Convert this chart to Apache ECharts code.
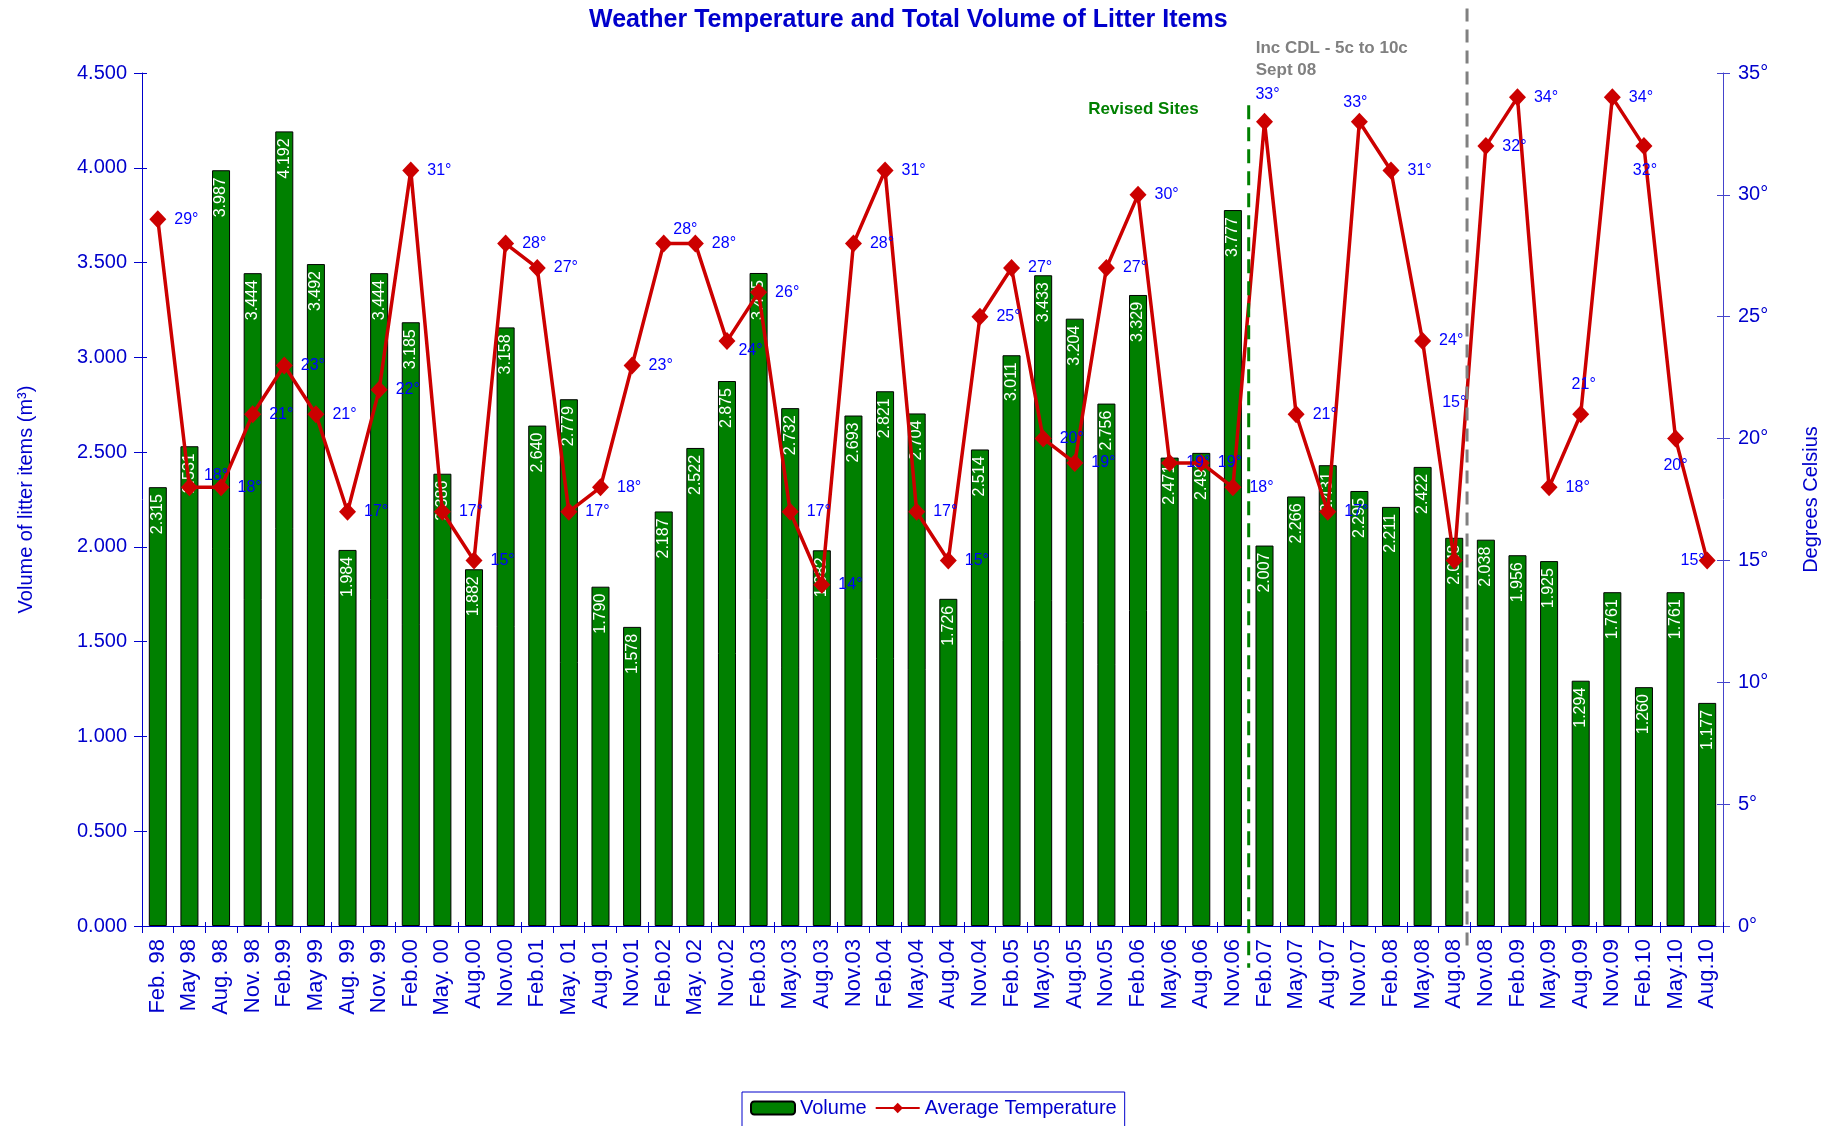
<!DOCTYPE html>
<html>
<head>
<meta charset="utf-8">
<title>Weather Temperature and Total Volume of Litter Items</title>
<script src="https://cdn.jsdelivr.net/npm/echarts@6/dist/echarts.min.js"></script>
<style>
  html, body { margin: 0; padding: 0; background: #ffffff; }
  #chart { width: 1841px; height: 1126px; }
</style>
</head>
<body>
<div id="chart"></div>
<script>
// Survey periods (quarterly)
const categories = [
  'Feb. 98', 'May 98', 'Aug. 98', 'Nov. 98',
  'Feb.99', 'May 99', 'Aug. 99', 'Nov. 99',
  'Feb.00', 'May. 00', 'Aug.00', 'Nov.00',
  'Feb.01', 'May. 01', 'Aug.01', 'Nov.01',
  'Feb.02', 'May. 02', 'Nov.02',
  'Feb.03', 'May.03', 'Aug.03', 'Nov.03',
  'Feb.04', 'May.04', 'Aug.04', 'Nov.04',
  'Feb.05', 'May.05', 'Aug.05', 'Nov.05',
  'Feb.06', 'May.06', 'Aug.06', 'Nov.06',
  'Feb.07', 'May.07', 'Aug.07', 'Nov.07',
  'Feb.08', 'May.08', 'Aug.08', 'Nov.08',
  'Feb.09', 'May.09', 'Aug.09', 'Nov.09',
  'Feb.10', 'May.10', 'Aug.10'
];

// Total volume of litter items (m3)
const volume = [
  2.315, 2.531, 3.987, 3.444,
  4.192, 3.492, 1.984, 3.444,
  3.185, 2.386, 1.882, 3.158,
  2.640, 2.779, 1.790, 1.578,
  2.187, 2.522, 2.875,
  3.445, 2.732, 1.982, 2.693,
  2.821, 2.704, 1.726, 2.514,
  3.011, 3.433, 3.204, 2.756,
  3.329, 2.471, 2.496, 3.777,
  2.007, 2.266, 2.431, 2.295,
  2.211, 2.422, 2.048, 2.038,
  1.956, 1.925, 1.294, 1.761,
  1.260, 1.761, 1.177
];

// Average temperature (degrees Celsius)
const temperature = [
  29, 18, 18, 21,
  23, 21, 17, 22,
  31, 17, 15, 28,
  27, 17, 18, 23,
  28, 28, 24,
  26, 17, 14, 28,
  31, 17, 15, 25,
  27, 20, 19, 27,
  30, 19, 19, 18,
  33, 21, 17, 33,
  31, 24, 15, 32,
  34, 18, 21, 34,
  32, 20, 15
];

// Axis ranges
const volumeAxis = { min: 0, max: 4.5, interval: 0.5 };
const tempAxis = { min: 0, max: 35, interval: 5 };

// Event markers: category where each change starts
const revisedSitesAt = 'Feb.07';
const cdlAt = 'Nov.08';

const FONT = "'Liberation Sans', Arial, sans-serif";
const BLUE = '#0000CC';
const LABEL_BLUE = '#0000FF';
const GREEN = '#008000';
const RED = '#CC0000';

// Temperature labels that sit somewhere other than right of the marker
const tempLabelPlacement = {
  'May 98':  { position: 'right', distance: 8, offset: [-2, -12] },
  'Feb.02':  { position: 'right', distance: 8, offset: [-7, -14] },
  'Nov.02':  { position: 'right', distance: 8, offset: [-5, 10] },
  'Feb.07':  { position: 'top', distance: 10, offset: [3, 0] },
  'Nov.07':  { position: 'top', distance: 2, offset: [-4, 0] },
  'Aug.08':  { position: 'top', distance: 5, offset: [0, -136] },
  'Aug.09':  { position: 'top', distance: 13, offset: [3, 0] },
  'Feb.10':  { position: 'bottom', distance: 7, offset: [1, 0] },
  'May.10':  { position: 'bottom', distance: 10, offset: [0, 0] },
  'Aug.10':  { position: 'left', distance: 0, offset: [6, 0] }
};

const tempData = temperature.map((t, i) => {
  const p = tempLabelPlacement[categories[i]];
  return p ? { value: t, label: p } : t;
});

const chart = echarts.init(document.getElementById('chart'), null, { renderer: 'canvas' });

const option = {
  backgroundColor: '#ffffff',
  animation: false,
  textStyle: { fontFamily: FONT },
  title: {
    text: 'Weather Temperature and Total Volume of Litter Items',
    left: 589,
    top: 8,
    padding: 0,
    textStyle: { color: BLUE, fontSize: 25, fontWeight: 'bold', fontFamily: FONT }
  },
  legend: {
    data: ['Volume', 'Average Temperature'],
    left: 742,
    top: 1092,
    padding: [6, 8, 16, 8],
    itemGap: 8,
    itemWidth: 44,
    itemHeight: 13,
    borderColor: BLUE,
    borderWidth: 1,
    textStyle: { color: BLUE, fontSize: 20, fontFamily: FONT }
  },
  grid: { left: 142, right: 118, top: 73, bottom: 200, containLabel: false },
  xAxis: [
    {
      type: 'category',
      data: categories,
      position: 'bottom',
      boundaryGap: true,
      axisLine: { show: true, lineStyle: { color: BLUE, width: 1 } },
      axisTick: { show: true, length: 7, lineStyle: { color: BLUE } },
      axisLabel: {
        rotate: 90, interval: 0, margin: 13,
        color: BLUE, fontSize: 22, fontFamily: FONT
      },
      splitLine: { show: false }
    },
    {
      // inner half of the cross tick marks
      type: 'category',
      data: categories,
      position: 'bottom',
      boundaryGap: true,
      axisLine: { show: false },
      axisTick: { show: true, inside: true, length: 4, lineStyle: { color: BLUE } },
      axisLabel: { show: false },
      splitLine: { show: false }
    }
  ],
  yAxis: [
    {
      type: 'value',
      position: 'left',
      min: volumeAxis.min, max: volumeAxis.max, interval: volumeAxis.interval,
      name: 'Volume of litter items (m³)',
      nameLocation: 'middle',
      nameRotate: 90,
      nameGap: 106,
      nameTextStyle: { color: BLUE, fontSize: 20, fontFamily: FONT },
      axisLine: { show: true, lineStyle: { color: BLUE, width: 1 } },
      axisTick: { show: true, length: 8, lineStyle: { color: BLUE } },
      axisLabel: {
        margin: 15, color: BLUE, fontSize: 20, fontFamily: FONT,
        formatter: v => v.toFixed(3)
      },
      splitLine: { show: false }
    },
    {
      type: 'value',
      position: 'right',
      min: tempAxis.min, max: tempAxis.max, interval: tempAxis.interval,
      name: 'Degrees Celsius',
      nameLocation: 'middle',
      nameRotate: 90,
      nameGap: 78,
      nameTextStyle: { color: BLUE, fontSize: 20, fontFamily: FONT },
      axisLine: { show: true, lineStyle: { color: '#4444CC', width: 1 } },
      axisTick: { show: true, length: 7, lineStyle: { color: '#4444CC' } },
      axisLabel: {
        margin: 15, color: BLUE, fontSize: 20, fontFamily: FONT,
        formatter: v => v + '°'
      },
      splitLine: { show: false }
    },
    {
      // inner half of the left cross ticks
      type: 'value',
      position: 'left',
      min: volumeAxis.min, max: volumeAxis.max, interval: volumeAxis.interval,
      axisLine: { show: false },
      axisTick: { show: true, inside: true, length: 5, lineStyle: { color: BLUE } },
      axisLabel: { show: false },
      splitLine: { show: false }
    },
    {
      // inner half of the right cross ticks
      type: 'value',
      position: 'right',
      min: tempAxis.min, max: tempAxis.max, interval: tempAxis.interval,
      axisLine: { show: false },
      axisTick: { show: true, inside: true, length: 6, lineStyle: { color: '#4444CC' } },
      axisLabel: { show: false },
      splitLine: { show: false }
    }
  ],
  series: [
    {
      name: 'Volume',
      type: 'bar',
      xAxisIndex: 0,
      yAxisIndex: 0,
      data: volume,
      barCategoryGap: '43%',
      itemStyle: { color: GREEN, borderColor: '#000000', borderWidth: 1 },
      label: {
        show: true,
        position: 'insideTop',
        distance: 7,
        rotate: 90,
        align: 'right',
        verticalAlign: 'middle',
        color: '#ffffff',
        fontSize: 16,
        fontFamily: FONT,
        formatter: p => p.value.toFixed(3)
      },
      z: 2
    },
    {
      name: 'Average Temperature',
      type: 'line',
      xAxisIndex: 0,
      yAxisIndex: 1,
      data: tempData,
      symbol: 'diamond',
      symbolSize: [17, 18],
      lineStyle: { color: RED, width: 3.5 },
      itemStyle: { color: RED },
      label: {
        show: true,
        position: 'right',
        distance: 8,
        color: LABEL_BLUE,
        fontSize: 16,
        fontFamily: FONT,
        formatter: p => p.value + '°'
      },
      z: 5
    }
  ]
};

chart.setOption(option);

// Period boundary lines and their captions, positioned through the axes
function boundaryX(name) {
  const i = categories.indexOf(name);
  const a = chart.convertToPixel({ xAxisIndex: 0 }, categories[i - 1]);
  const b = chart.convertToPixel({ xAxisIndex: 0 }, categories[i]);
  return (a + b) / 2;
}
const yPix = v => chart.convertToPixel({ yAxisIndex: 0 }, v);

const gx = boundaryX(revisedSitesAt);
const cx = boundaryX(cdlAt) - 3;

chart.setOption({
  graphic: [
    {
      type: 'line', z: 10,
      shape: { x1: gx, y1: yPix(4.33), x2: gx, y2: yPix(-0.22) },
      style: { stroke: GREEN, lineWidth: 3, lineDash: [14, 8] }
    },
    {
      type: 'line', z: 10,
      shape: { x1: cx, y1: yPix(4.84), x2: cx, y2: yPix(-0.14) },
      style: { stroke: '#808080', lineWidth: 3, lineDash: [13, 8] }
    },
    {
      type: 'text', z: 10,
      x: gx - 50, y: yPix(4.31),
      style: {
        text: 'Revised Sites', fill: GREEN, align: 'right', verticalAlign: 'middle',
        font: "bold 17px 'Liberation Sans', Arial, sans-serif"
      }
    },
    {
      type: 'text', z: 10,
      x: gx + 7, y: yPix(4.63),
      style: {
        text: 'Inc CDL - 5c to 10c', fill: '#808080', align: 'left', verticalAlign: 'middle',
        font: "bold 17px 'Liberation Sans', Arial, sans-serif"
      }
    },
    {
      type: 'text', z: 10,
      x: gx + 7, y: yPix(4.515),
      style: {
        text: 'Sept 08', fill: '#808080', align: 'left', verticalAlign: 'middle',
        font: "bold 17px 'Liberation Sans', Arial, sans-serif"
      }
    }
  ]
});
</script>
</body>
</html>
